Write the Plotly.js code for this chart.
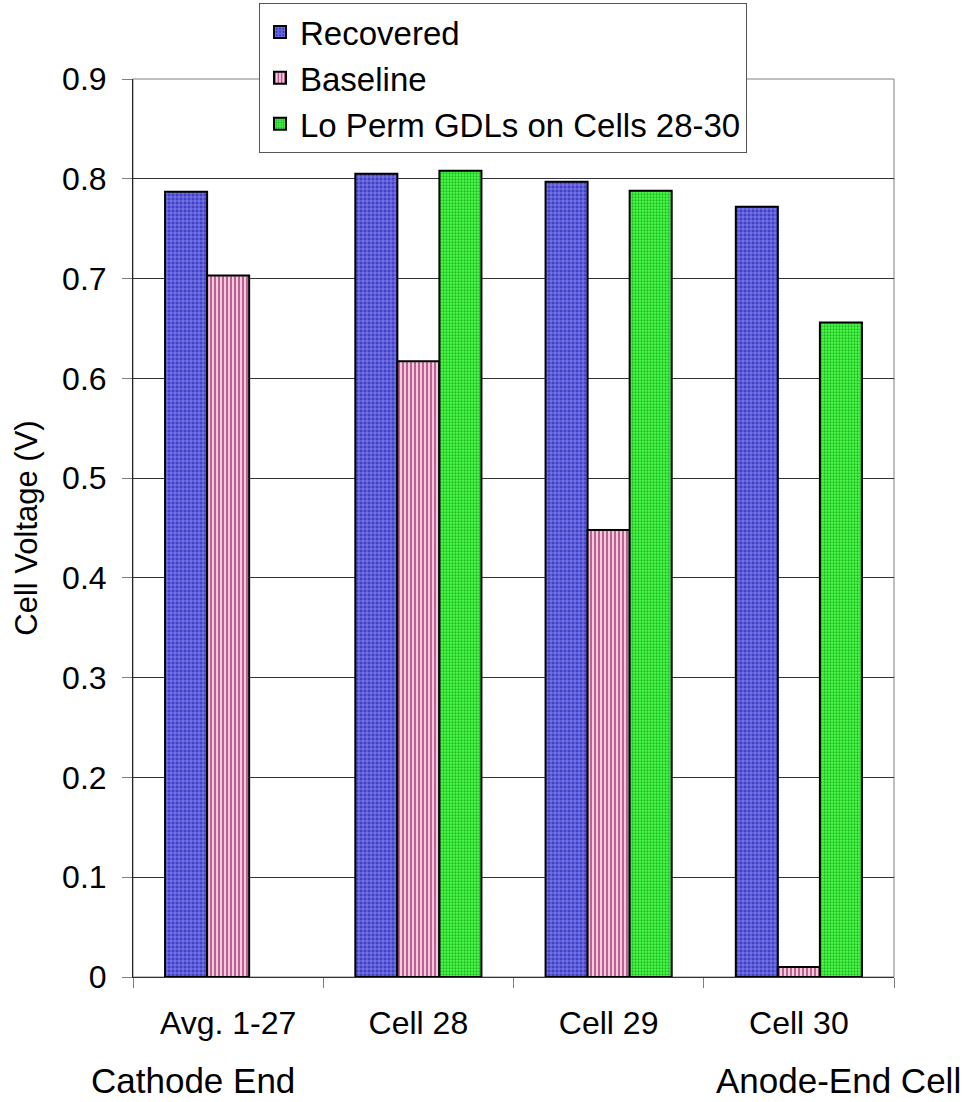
<!DOCTYPE html>
<html>
<head>
<meta charset="utf-8">
<script src="https://cdn.plot.ly/plotly-3.0.1.min.js"></script>
<style>html,body{margin:0;padding:0;background:#fff;}#chart{width:972px;height:1102px;}</style>
</head>
<body>
<div id="chart"></div>
<script>
var categories = ["Avg. 1-27", "Cell 28", "Cell 29", "Cell 30"];
var recovered = [0.787, 0.805, 0.797, 0.772];
var baseline = [0.703, 0.617, 0.448, 0.010];
var loPerm = [null, 0.808, 0.788, 0.656];
var yTicks = [0, 0.1, 0.2, 0.3, 0.4, 0.5, 0.6, 0.7, 0.8, 0.9];
var endLabels = ["Cathode End", "Anode-End Cell"];

var FONT = "Liberation Sans, Arial, sans-serif";
var W = 972, H = 1102;

var traces = [
  {
    type: "bar", name: "Recovered", x: categories, y: recovered,
    marker: {
      color: "#4a4ad0",
      line: {color: "#000", width: 2},
      pattern: {shape: "+", fgcolor: "#a8a8ff", bgcolor: "#4242c8", size: 4, solidity: 0.25}
    }
  },
  {
    type: "bar", name: "Baseline", x: categories, y: baseline,
    marker: {
      color: "#f2bcd6",
      line: {color: "#000", width: 2},
      pattern: {shape: "|", fgcolor: "#a84a80", bgcolor: "#f6c8dc", size: 4, solidity: 0.4}
    }
  },
  {
    type: "bar", name: "Lo Perm GDLs on Cells 28-30", x: categories, y: loPerm,
    marker: {
      color: "#44ff44",
      line: {color: "#000", width: 2},
      pattern: {shape: ".", fgcolor: "#22b822", bgcolor: "#4cff4c", size: 3, solidity: 0.45}
    }
  }
];

var layout = {
  width: W, height: H,
  margin: {l: 0, r: 0, t: 0, b: 0},
  paper_bgcolor: "#fff", plot_bgcolor: "#fff",
  font: {family: FONT, size: 32, color: "#000"},
  barmode: "group", bargap: 0.337, bargroupgap: 0,
  showlegend: true,
  legend: {
    x: 259 / W, y: (H - 3) / H, xanchor: "left", yanchor: "top",
    bgcolor: "#fff", bordercolor: "#555", borderwidth: 1,
    font: {family: FONT, size: 33, color: "#000"},
    tracegroupgap: 0
  },
  xaxis: {
    domain: [133 / W, 894 / W],
    type: "category",
    tickson: "boundaries",
    ticks: "outside", ticklen: 10, tickcolor: "#808080", tickwidth: 1,
    showline: true, linecolor: "#333", linewidth: 1,
    showgrid: false, zeroline: false,
    tickfont: {family: FONT, size: 32},
    ticklabelstandoff: 18
  },
  yaxis: {
    domain: [(H - 977) / H, (H - 79) / H],
    range: [0, 0.9], tickvals: yTicks,
    ticks: "outside", ticklen: 10, tickcolor: "#808080", tickwidth: 1,
    showline: true, linecolor: "#222", linewidth: 1,
    showgrid: true, gridcolor: "#333", gridwidth: 1,
    zeroline: false,
    tickfont: {family: FONT, size: 32},
    ticklabelstandoff: 9,
    title: {text: "Cell Voltage (V)", font: {family: FONT, size: 31}, standoff: 15}
  },
  shapes: [
    {type: "rect", xref: "x domain", yref: "y domain", x0: 0, x1: 1, y0: 0, y1: 1,
     line: {color: "#808080", width: 1}, layer: "below"}
  ],
  annotations: [
    {text: endLabels[0], xref: "paper", yref: "paper", x: 193 / W, y: 0,
     xanchor: "center", yanchor: "bottom", showarrow: false, font: {family: FONT, size: 35}},
    {text: endLabels[1], xref: "paper", yref: "paper", x: 838 / W, y: 0,
     xanchor: "center", yanchor: "bottom", showarrow: false, font: {family: FONT, size: 35}}
  ]
};

Plotly.newPlot("chart", traces, layout, {displayModeBar: false, staticPlot: true});
</script>
</body>
</html>
